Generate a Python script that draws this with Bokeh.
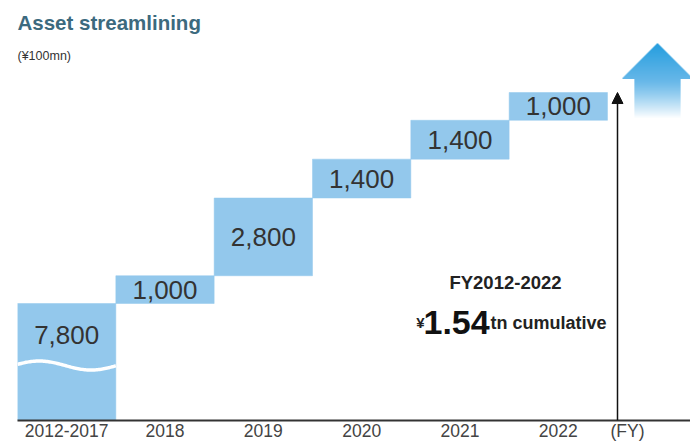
from bokeh.plotting import figure
from bokeh.models import Range1d, FixedTicker, Arrow, NormalHead, ColumnDataSource
from bokeh.core.properties import value
from bokeh.embed import file_html
from bokeh.resources import INLINE
import numpy as np

# ---------------- data ----------------
categories = ["2012-2017", "2018", "2019", "2020", "2021", "2022"]
amounts = [7800, 1000, 2800, 1400, 1400, 1000]
amount_labels = ["7,800", "1,000", "2,800", "1,400", "1,400", "1,000"]
title_text = "Asset streamlining"
unit_text = "(¥100mn)"
note_line1 = "FY2012-2022"
note_yen = "¥"
note_value = "1.54"
note_suffix = "tn cumulative"
axis_suffix = "(FY)"

# ---------------- layout constants (page pixels; figure sits at 0,0) ----------------
W, H = 690, 443
FRAME_LEFT = 17
FRAME_BOTTOM = 420               # page y of the x-axis line
AXIS_H = H - FRAME_BOTTOM
PX_PER_CAT = 98.33
PX_PER_1000 = 27.76
Y_PER_PX = 1000.0 / PX_PER_1000
FIRST_TOP = 303                  # page y of top of first bar

x_start = -0.5
x_end = x_start + (W - FRAME_LEFT) / PX_PER_CAT
y_top = amounts[0] + FIRST_TOP * Y_PER_PX
y_bot = amounts[0] - (FRAME_BOTTOM - FIRST_TOP) * Y_PER_PX


def sx(px):  # page px -> data x
    return x_start + (px - FRAME_LEFT) / PX_PER_CAT


def sy(py):  # page px -> data y
    return y_top - py * Y_PER_PX


# waterfall geometry from data
idx = list(range(len(categories)))
bottoms = np.concatenate([[0], np.cumsum(amounts)[:-1]])
tops = np.cumsum(amounts)
total = tops[-1]

break_val = amounts[0] - 62 * Y_PER_PX  # wavy break in first bar
label_y = [(b + t) / 2 for b, t in zip(bottoms, tops)]
label_y[0] = (amounts[0] + break_val) / 2

src = ColumnDataSource(dict(x=idx, bottom=bottoms, top=tops,
                            label=amount_labels, ly=label_y))

p = figure(width=W, height=H, output_backend="svg", toolbar_location=None,
           x_range=Range1d(x_start, x_end), y_range=Range1d(y_bot, y_top),
           y_axis_location=None, min_border_left=FRAME_LEFT, min_border_right=0,
           min_border_top=0, min_border_bottom=AXIS_H)
p.outline_line_color = None
p.xgrid.visible = False
p.ygrid.visible = False
p.background_fill_color = "white"
p.border_fill_color = "white"

BAR = "#93C8EC"
p.vbar(x="x", bottom="bottom", top="top", width=1.0, source=src,
       fill_color=BAR, line_color=BAR, line_width=0.5)

# wavy break across first bar
wx = np.linspace(-0.5, 0.5, 80)
wy = break_val + 4.5 * Y_PER_PX * np.sin((wx + 0.5) * 2 * np.pi * 0.95 + 0.25)
p.line(wx, wy, line_color="white", line_width=3.5)

p.text(x="x", y="ly", text="label", source=src, text_align="center",
       text_baseline="middle", text_font=value("Liberation Sans"),
       text_font_size="26px", text_color="#333333")

# axis
ticks = idx + [sx(627)]
p.xaxis.ticker = FixedTicker(ticks=ticks)
ov = {i: c for i, c in enumerate(categories)}
ov[ticks[-1]] = axis_suffix
p.xaxis.major_label_overrides = ov
p.xaxis.major_label_text_font = "Liberation Sans"
p.xaxis.major_label_text_font_size = "17.5px"
p.xaxis.major_label_text_color = "#444444"
p.xaxis.major_label_standoff = 0
p.xaxis.major_tick_out = 0
p.xaxis.major_tick_in = 0
p.xaxis.minor_tick_out = 0
p.xaxis.minor_tick_in = 0
p.xaxis.axis_label = None
p.xaxis.major_tick_line_color = None
p.xaxis.minor_tick_line_color = None
p.xaxis.axis_line_color = "#333333"
p.xaxis.axis_line_width = 2

# cumulative arrow
arrow_x = sx(617)
p.add_layout(Arrow(x_start=arrow_x, y_start=y_bot, x_end=arrow_x, y_end=total,
                   line_color="#111111", line_width=1.5,
                   end=NormalHead(size=11, fill_color="#111111",
                                  line_color="#111111")))

# titles
p.text(x=[sx(17)], y=[sy(22)], text=[title_text], text_baseline="middle",
       text_font=value("Liberation Sans"), text_font_size="20.5px",
       text_font_style="bold", text_color="#3C6A7E")
p.text(x=[sx(17)], y=[sy(55)], text=[unit_text], text_baseline="middle",
       text_font=value("Liberation Sans"), text_font_size="12.5px",
       text_color="#333333")

# note
p.text(x=[sx(505)], y=[sy(282)], text=[note_line1], text_align="center",
       text_baseline="middle", text_font=value("Liberation Sans"),
       text_font_size="18.5px", text_font_style="bold", text_color="#222222")
p.text(x=[sx(424)], y=[sy(322)], text=[note_yen], text_align="right",
       text_baseline="alphabetic", text_font=value("Liberation Sans"),
       text_font_size="15px", text_font_style="bold", text_color="#222222")
p.text(x=[sx(423)], y=[sy(322)], text=[note_value], text_align="left",
       text_baseline="alphabetic", text_font=value("Liberation Sans"),
       text_font_size="34px", text_font_style="bold", text_color="#111111")
p.text(x=[sx(490)], y=[sy(322)], text=[note_suffix], text_align="left",
       text_baseline="alphabetic", text_font=value("Liberation Sans"),
       text_font_size="18px", text_font_style="bold", text_color="#222222")

# gradient up-arrow (decoration)
cx, tip, base, bottom_px, head_hw, stem_hw = 657, 43, 78, 117, 35, 23
lefts, rights, tps, bts, cols = [], [], [], [], []
c_top = np.array([38, 158, 222])
c_mid = np.array([100, 182, 232])
white = np.array([255, 255, 255])
for r in range(tip, bottom_px):
    if r < base:
        hw = head_hw * (r + 1 - tip) / (base - tip)
        t = (r - tip) / (base - tip)
        c = c_top + (c_mid - c_top) * t
    else:
        hw = stem_hw
        t = (r - base) / (bottom_px - base)
        c = c_mid + (white - c_mid) * t ** 1.2
    lefts.append(sx(cx - hw)); rights.append(sx(cx + hw))
    tps.append(sy(r)); bts.append(sy(r + 1.6))
    cols.append("#%02x%02x%02x" % tuple(int(round(v)) for v in c))
# draw bottom rows first so upper rows overlap them
p.quad(left=lefts[::-1], right=rights[::-1], top=tps[::-1], bottom=bts[::-1],
       fill_color=cols[::-1], line_color=None)

open("out.html", "w").write(file_html(p, INLINE))
